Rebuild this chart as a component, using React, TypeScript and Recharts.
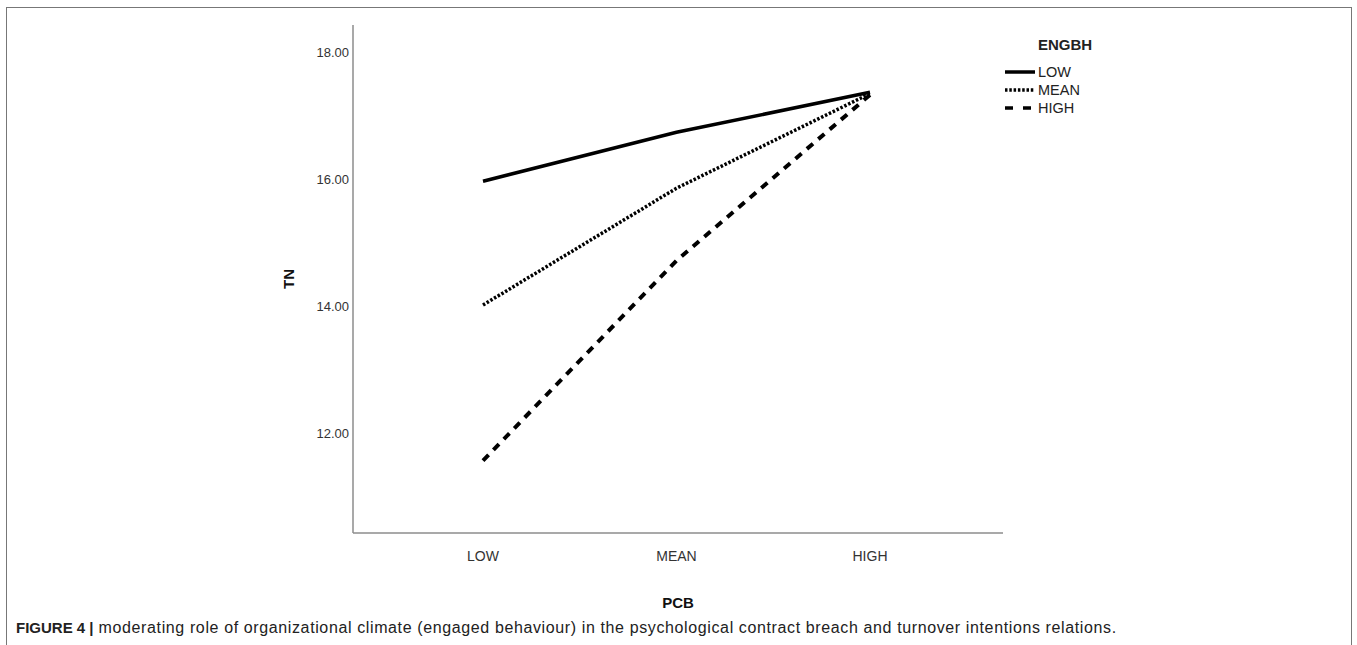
import { Line, LineChart, XAxis, YAxis, Label } from "recharts";

const categories = ["LOW", "MEAN", "HIGH"];
const lowSeries = [15.97, 16.74, 17.37];
const meanSeries = [14.02, 15.86, 17.35];
const highSeries = [11.57, 14.72, 17.33];
const yTicks = [12, 14, 16, 18];

const legendTitle = "ENGBH";
const legendLabels = ["LOW", "MEAN", "HIGH"];
const legendDashes = [undefined, "2.5 1.8", "8 10"];

const data = categories.map((c, i) => ({
  pcb: c,
  low: lowSeries[i],
  mean: meanSeries[i],
  high: highSeries[i],
}));

const FONT = "'Liberation Sans', Arial, sans-serif";
const AXIS = "#8c8c8c";

// SPSS-style legend, drawn outside the chart so it doesn't take plot space
function LegendBox() {
  return (
    <div style={{ position: "absolute", left: 1005, top: 36, fontFamily: FONT, color: "#222" }}>
      <div style={{ fontWeight: "bold", fontSize: 15, marginLeft: 33, marginBottom: 10 }}>{legendTitle}</div>
      {legendLabels.map((label, i) => (
        <div key={label} style={{ display: "flex", alignItems: "center", height: 18 }}>
          <svg width={33} height={10}>
            <line x1={0} y1={5} x2={30} y2={5} stroke="#000" strokeWidth={3.5} strokeDasharray={legendDashes[i]} />
          </svg>
          <span style={{ fontSize: 14.5 }}>{label}</span>
        </div>
      ))}
    </div>
  );
}

export default function App() {
  return (
    <div
      style={{
        position: "absolute",
        left: 0,
        top: 0,
        width: 1357,
        height: 645,
        overflow: "hidden",
        background: "#fff",
        fontFamily: FONT,
      }}
    >
      <div
        style={{
          position: "absolute",
          left: 6,
          top: 7,
          width: 1344,
          height: 700,
          border: "1.5px solid #777",
        }}
      />
      <div style={{ position: "absolute", left: 0, top: 0 }}>
        <LineChart width={1357} height={645} data={data} margin={{ top: 25, right: 354, left: 293, bottom: 72 }}>
          <XAxis
            dataKey="pcb"
            padding={{ left: 130, right: 133 }}
            tickLine={false}
            axisLine={{ stroke: AXIS, strokeWidth: 1.5 }}
            tick={{ fill: "#333", fontSize: 14, fontFamily: FONT }}
            tickMargin={12}
            height={40}
          >
            <Label value="PCB" position="bottom" offset={24} style={{ fontWeight: "bold", fontSize: 15, fill: "#111", fontFamily: FONT }} />
          </XAxis>
          <YAxis
            type="number"
            domain={[10.43, 18.43]}
            ticks={yTicks}
            tickFormatter={(v: number) => v.toFixed(2)}
            tickLine={false}
            tickSize={2}
            axisLine={{ stroke: AXIS, strokeWidth: 1.5 }}
            tick={{ fill: "#333", fontSize: 13, fontFamily: FONT }}
            width={60}
            allowDataOverflow
          >
            <Label
              value="TN"
              angle={-90}
              position="left"
              offset={4}
              style={{ fontWeight: "bold", fontSize: 15, fill: "#111", fontFamily: FONT, textAnchor: "middle" }}
            />
          </YAxis>
          <Line type="linear" dataKey="low" stroke="#000" strokeWidth={3.5} dot={false} isAnimationActive={false} />
          <Line type="linear" dataKey="mean" stroke="#000" strokeWidth={3.5} strokeDasharray="2.5 1.8" dot={false} isAnimationActive={false} />
          <Line type="linear" dataKey="high" stroke="#000" strokeWidth={4} strokeDasharray="8 7" dot={false} isAnimationActive={false} />
        </LineChart>
      </div>
      <LegendBox />
      <div
        style={{
          position: "absolute",
          left: 16,
          top: 619,
          color: "#222",
          whiteSpace: "nowrap",
        }}
      >
        <b style={{ fontSize: 15 }}>FIGURE 4 |</b>
        <span style={{ fontSize: 16, letterSpacing: 0.62 }}> moderating role of organizational climate (engaged behaviour) in the psychological contract breach and turnover intentions relations.</span>
      </div>
    </div>
  );
}
